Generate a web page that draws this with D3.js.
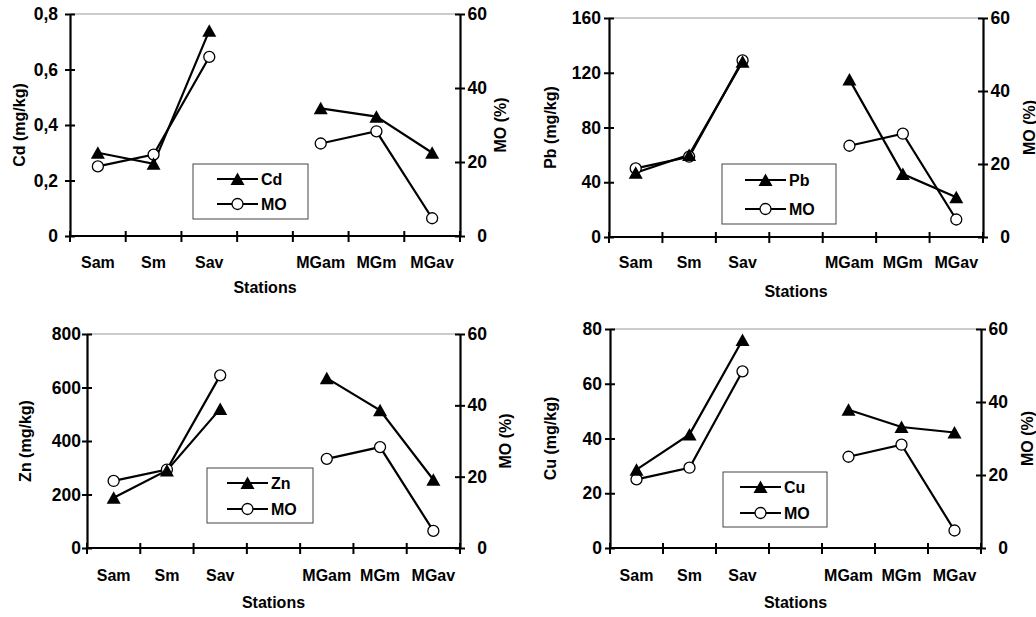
<!DOCTYPE html>
<html>
<head>
<meta charset="utf-8">
<script src="https://cdn.jsdelivr.net/npm/d3@7"></script>
<style>
  body { margin: 0; background: #fff; }
  svg { font-family: Arial, "Liberation Sans", sans-serif; font-weight: bold; }
</style>
</head>
<body>
<svg id="chart" width="1036" height="617"></svg>
<script>
// stations, with an empty slot between the two rivers
const slots = ["Sam", "Sm", "Sav", "", "MGam", "MGm", "MGav"];
const stations = ["Sam", "Sm", "Sav", "MGam", "MGm", "MGav"];

const moValues = [18.8, 22.0, 48.4, 25.0, 28.3, 4.8];
const cdValues = [0.30, 0.26, 0.74, 0.46, 0.43, 0.30];
const pbValues = [47, 60, 128, 115, 46, 29];
const znValues = [188, 290, 520, 635, 515, 255];
const cuValues = [28.6, 41.5, 76, 50.5, 44.2, 42.2];

const cdTicks = [0, 0.2, 0.4, 0.6, 0.8];
const pbTicks = [0, 40, 80, 120, 160];
const znTicks = [0, 200, 400, 600, 800];
const cuTicks = [0, 20, 40, 60, 80];
const moTicks = [0, 20, 40, 60];

const svg = d3.select("#chart");
const comma = d => String(d).replace(".", ",");
const FONT = "Arial, 'Liberation Sans', sans-serif";

// panel geometry
const panels = [
  { name: "Cd", values: cdValues, ticks: cdTicks, x0: 70, x1: 460, y0: 14, y1: 236,
    lblGap: 12, leftTitleX: 19, rightTitleX: 500, catY: 268, titleY: 293,
    legend: { x: 193, y: 164, w: 115, h: 55, lx: 217, r1: 179, r2: 204 } },
  { name: "Pb", values: pbValues, ticks: pbTicks, x0: 609, x1: 983, y0: 18, y1: 237,
    lblGap: 8, leftTitleX: 550, rightTitleX: 1029, catY: 268, titleY: 297,
    legend: { x: 722, y: 164, w: 114, h: 60, lx: 745, r1: 180, r2: 209 } },
  { name: "Zn", values: znValues, ticks: znTicks, x0: 87, x1: 460, y0: 334, y1: 548,
    lblGap: 6, leftTitleX: 25, rightTitleX: 505, catY: 581, titleY: 608,
    legend: { x: 207, y: 468, w: 106, h: 55, lx: 227, r1: 483, r2: 509 } },
  { name: "Cu", values: cuValues, ticks: cuTicks, x0: 610, x1: 981, y0: 329, y1: 548,
    lblGap: 8, leftTitleX: 550, rightTitleX: 1027, catY: 581, titleY: 608,
    legend: { x: 723, y: 472, w: 104, h: 55, lx: 740, r1: 487, r2: 513 } }
];

const triangle = "M0,-6.5L7,6L-7,6Z";

function drawMarker(g, kind, x, y) {
  if (kind === "tri") {
    g.append("path").attr("d", triangle)
      .attr("transform", `translate(${x},${y})`)
      .attr("fill", "#000");
  } else {
    g.append("circle").attr("cx", x).attr("cy", y).attr("r", 5.5)
      .attr("fill", "#fff").attr("stroke", "#000").attr("stroke-width", 1.3);
  }
}

function drawPanel(p) {
  const g = svg.append("g");
  const x = d3.scaleBand().domain(slots).range([p.x0, p.x1]);
  const y = d3.scaleLinear().domain([0, d3.max(p.ticks)]).range([p.y1, p.y0]);
  const y2 = d3.scaleLinear().domain([0, 60]).range([p.y1, p.y0]);

  // top border of plot area
  g.append("line").attr("x1", p.x0).attr("x2", p.x1).attr("y1", p.y0).attr("y2", p.y0)
    .attr("stroke", "#999").attr("stroke-width", 1);

  // left axis
  const left = g.append("g").attr("transform", `translate(${p.x0},0)`)
    .call(d3.axisLeft(y).tickValues(p.ticks).tickFormat(comma).tickSizeInner(5).tickSizeOuter(0));
  left.select(".domain").attr("stroke-width", 2.2);
  left.selectAll(".tick line").attr("x2", 5).attr("x1", -5).attr("stroke-width", 2);
  left.selectAll(".tick text").attr("x", -p.lblGap).attr("font-size", 17.5)
    .attr("font-family", FONT).attr("font-weight", "bold");

  // right axis
  const right = g.append("g").attr("transform", `translate(${p.x1},0)`)
    .call(d3.axisRight(y2).tickValues(moTicks).tickSizeInner(5).tickSizeOuter(0));
  right.select(".domain").attr("stroke-width", 2.2);
  right.selectAll(".tick line").attr("x1", -5).attr("x2", 5).attr("stroke-width", 2);
  right.selectAll(".tick text").attr("x", 27).attr("text-anchor", "end").attr("font-size", 17.5)
    .attr("font-family", FONT).attr("font-weight", "bold");

  // bottom axis: ticks between categories
  const edges = d3.range(slots.length + 1).map(i => p.x0 + i * x.bandwidth());
  g.append("line").attr("x1", p.x0).attr("x2", p.x1).attr("y1", p.y1).attr("y2", p.y1)
    .attr("stroke", "#000").attr("stroke-width", 2.2);
  g.selectAll(".xt").data(edges).join("line")
    .attr("x1", d => d).attr("x2", d => d)
    .attr("y1", p.y1 - 5).attr("y2", p.y1 + 6)
    .attr("stroke", "#000").attr("stroke-width", 2);
  g.selectAll(".cat").data(slots).join("text")
    .attr("x", d => x(d) + x.bandwidth() / 2).attr("y", p.catY)
    .attr("text-anchor", "middle").attr("font-size", 16).text(d => d);

  // titles
  g.append("text").attr("x", (p.x0 + p.x1) / 2).attr("y", p.titleY)
    .attr("text-anchor", "middle").attr("font-size", 16).text("Stations");
  const my = (p.y0 + p.y1) / 2;
  g.append("text").attr("transform", `translate(${p.leftTitleX + 5.5},${my}) rotate(-90)`)
    .attr("text-anchor", "middle").attr("font-size", 16).text(p.name + " (mg/kg)");
  g.append("text").attr("transform", `translate(${p.rightTitleX + 5.5},${my}) rotate(-90)`)
    .attr("text-anchor", "middle").attr("font-size", 16).text("MO (%)");

  // series lines, broken between the two rivers
  const cx = s => x(s) + x.bandwidth() / 2;
  const metalPts = stations.map((s, i) => ({ s, v: p.values[i] }));
  const moPts = stations.map((s, i) => ({ s, v: moValues[i] }));
  const groups = [stations.slice(0, 3), stations.slice(3)];
  const lineM = d3.line().x(d => cx(d.s)).y(d => y(d.v));
  const lineO = d3.line().x(d => cx(d.s)).y(d => y2(d.v));
  groups.forEach(grp => {
    g.append("path").attr("d", lineO(moPts.filter(d => grp.includes(d.s))))
      .attr("fill", "none").attr("stroke", "#000").attr("stroke-width", 2.2);
    g.append("path").attr("d", lineM(metalPts.filter(d => grp.includes(d.s))))
      .attr("fill", "none").attr("stroke", "#000").attr("stroke-width", 2.2);
  });
  moPts.forEach(d => drawMarker(g, "circ", cx(d.s), y2(d.v)));
  metalPts.forEach(d => drawMarker(g, "tri", cx(d.s), y(d.v)));

  // legend
  const L = p.legend;
  g.append("rect").attr("x", L.x).attr("y", L.y).attr("width", L.w).attr("height", L.h)
    .attr("fill", "#fff").attr("stroke", "#444").attr("stroke-width", 1);
  [[p.name, "tri", L.r1], ["MO", "circ", L.r2]].forEach(([label, kind, ry]) => {
    g.append("line").attr("x1", L.lx).attr("x2", L.lx + 41).attr("y1", ry).attr("y2", ry)
      .attr("stroke", "#000").attr("stroke-width", 2.2);
    drawMarker(g, kind, L.lx + 20.5, ry);
    g.append("text").attr("x", L.lx + 44).attr("y", ry + 6).attr("font-size", 16).text(label);
  });
}

panels.forEach(drawPanel);
</script>
</body>
</html>
